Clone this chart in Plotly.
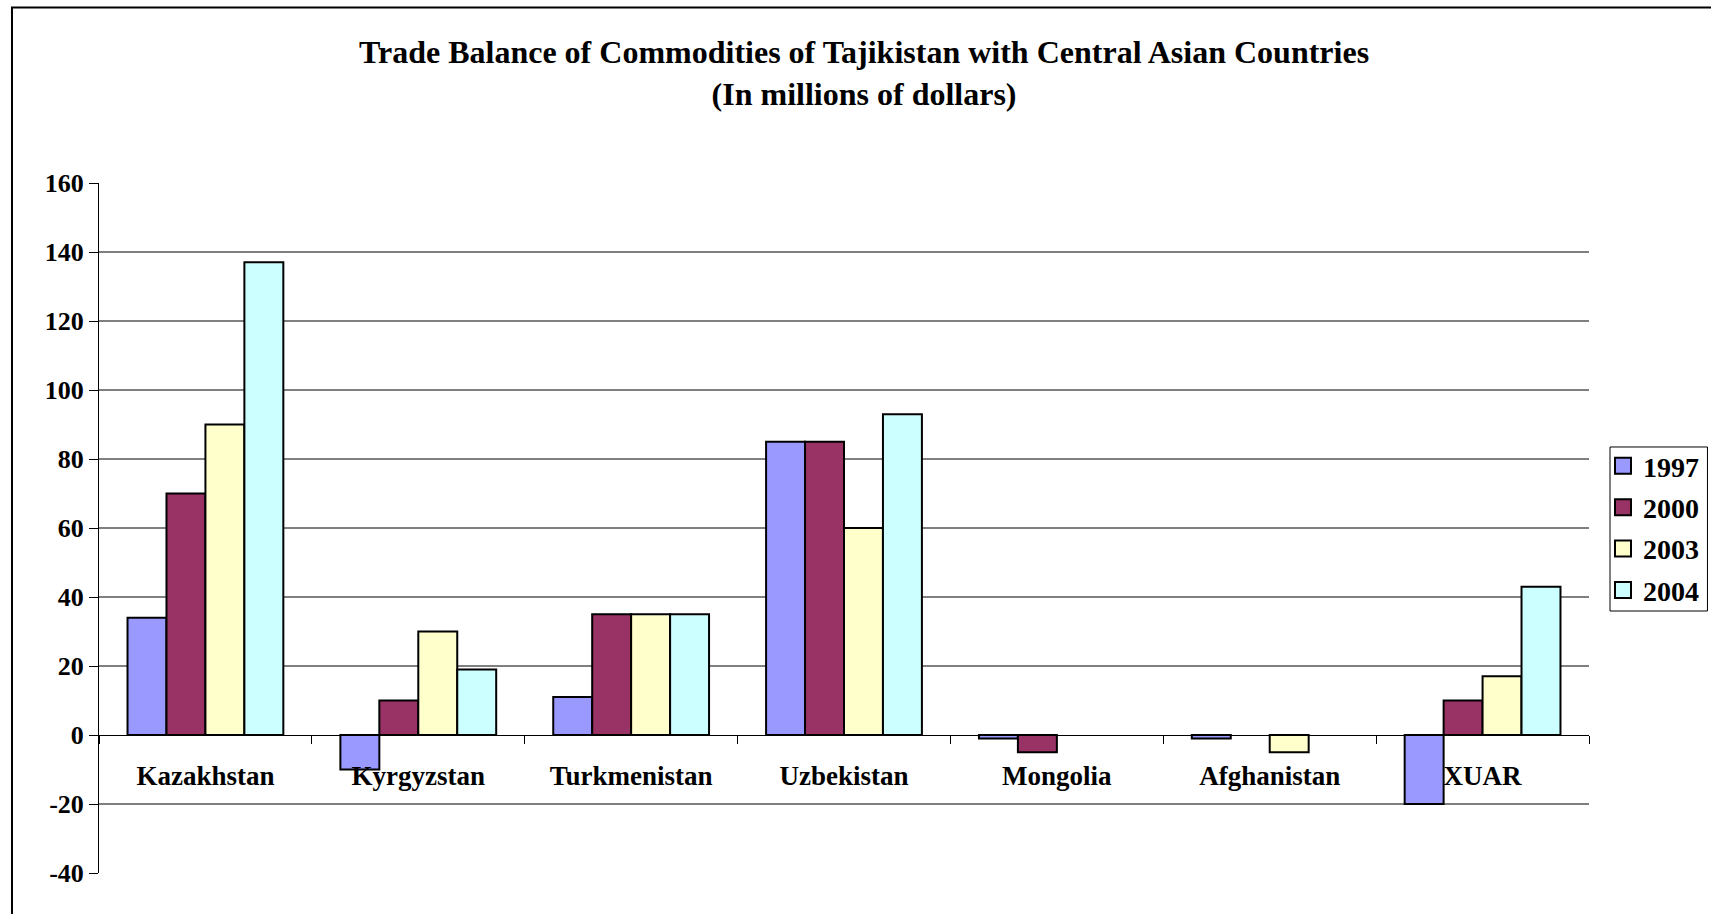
import plotly.graph_objects as go

countries = ["Kazakhstan", "Kyrgyzstan", "Turkmenistan", "Uzbekistan", "Mongolia", "Afghanistan", "XUAR"]
years = ["1997", "2000", "2003", "2004"]
v1997 = [34, -10, 11, 85, -1, -1, -20]
v2000 = [70, 10, 35, 85, -5, None, 10]
v2003 = [90, 30, 35, 60, None, -5, 17]
v2004 = [137, 19, 35, 93, None, None, 43]
colors = ["#9999FF", "#993366", "#FFFFCC", "#CCFFFF"]
y_ticks = [-40, -20, 0, 20, 40, 60, 80, 100, 120, 140, 160]
y_tick_text = ["-40", "-20", "0", "20", "40", "60", "80", "100", "120", "140", "160"]
grid_vals = [-20, 20, 40, 60, 80, 100, 120, 140]

FONT = "Liberation Serif"
series = [v1997, v2000, v2003, v2004]

fig = go.Figure()
for yr, vals, c in zip(years, series, colors):
    fig.add_trace(go.Bar(x=countries, y=vals, name=yr, showlegend=False,
                         marker=dict(color=c, line=dict(color="black", width=2))))
for yr, c in zip(years, colors):
    fig.add_trace(go.Scatter(x=[None], y=[None], mode="markers", name=yr, legendgroup=yr,
                             marker=dict(symbol="square", size=17, color=c,
                                         line=dict(color="black", width=2))))

shapes = []
for g in grid_vals:
    shapes.append(dict(type="line", xref="paper", yref="y", x0=0, x1=1, y0=g, y1=g,
                       line=dict(color="black", width=1), layer="below"))
# outer chart frame (top and left edges visible)
shapes.append(dict(type="rect", xref="paper", yref="paper", x0=-0.0584, x1=1.3, y0=-0.3, y1=1.2545,
                   line=dict(color="black", width=2), layer="below"))
# legend frame
shapes.append(dict(type="rect", xref="paper", yref="paper", x0=1.0141, x1=1.0795, y0=0.3797, y1=0.6174,
                   line=dict(color="black", width=1), layer="above"))

fig.update_layout(
    width=1711, height=914,
    margin=dict(l=99, r=122, t=183, b=41, autoexpand=False),
    paper_bgcolor="white", plot_bgcolor="white",
    barmode="group", bargap=0.268, bargroupgap=0,
    font=dict(family=FONT, color="black", size=26, weight="bold"),
    title=dict(text="Trade Balance of Commodities of Tajikistan with Central Asian Countries<br>(In millions of dollars)",
               x=0.505, xanchor="center", xref="container", y=0.931, yanchor="top",
               font=dict(family=FONT, size=32, color="black", weight="bold")),
    legend=dict(x=1.0094, y=0.626, xanchor="left", yanchor="top",
                borderwidth=0, bgcolor="rgba(0,0,0,0)",
                tracegroupgap=2, traceorder="grouped",
                font=dict(family=FONT, size=28, color="black", weight="bold")),
    shapes=shapes,
    xaxis=dict(anchor="free", position=0.2, showline=True, linecolor="black", linewidth=1,
               ticks="outside", tickson="boundaries", ticklen=8, tickcolor="black",
               ticklabelstandoff=17,
               showgrid=False, zeroline=False,
               tickfont=dict(family=FONT, size=27, color="black", weight="bold")),
    yaxis=dict(range=[-40, 160], tickvals=y_ticks, ticktext=y_tick_text,
               showline=True, linecolor="black", linewidth=1,
               ticks="outside", ticklen=9, tickcolor="black", showgrid=False, zeroline=False,
               tickfont=dict(family=FONT, size=26, color="black", weight="bold")),
)

fig.write_html("out.html")
